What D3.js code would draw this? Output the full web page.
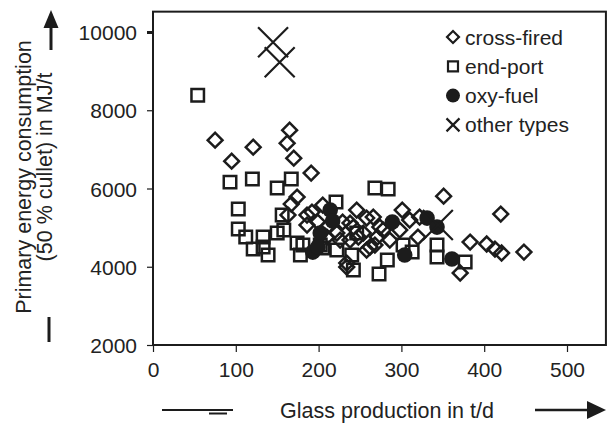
<!DOCTYPE html>
<html lang="en">
<head>
<meta charset="UTF-8">
<title>Primary energy consumption vs glass production</title>
<script src="https://d3js.org/d3.v7.min.js"></script>
<style>
    body { margin: 0; background: #fff; }
    svg { display: block; }
    text { font-family: "Liberation Sans", Arial, Helvetica, sans-serif; fill: #222; }
</style>
</head>
<body>
<svg id="vis" width="616" height="424"></svg>
<script>
    // values: [glass production t/d, energy MJ/t]
    const crossFired = [
        [75, 7236], [121, 7057], [165, 7491], [162, 7159], [95, 6699], [170, 6776],
        [191, 6393], [174, 5780], [167, 5601], [163, 5320], [186, 5320], [192, 5397],
        [205, 5576], [229, 5141], [210, 5014], [222, 4860], [238, 4682], [254, 4860],
        [246, 5448], [258, 5244], [266, 5270], [242, 5014], [262, 4503], [258, 4426],
        [234, 4094], [234, 3992], [301, 5448], [322, 5270], [351, 5805], [420, 5346],
        [383, 4631], [403, 4580], [413, 4452], [421, 4350], [448, 4375], [371, 3839],
        [278, 4937], [271, 4758], [310, 5193], [298, 4937], [268, 4554], [248, 4758],
        [320, 4758], [186, 5065], [199, 5141], [226, 4682], [210, 4758], [274, 5014],
        [286, 4682], [238, 5116]
    ];
    const endPort = [
        [54, 8386], [93, 6163], [120, 6240], [150, 6010], [167, 6240], [103, 5473],
        [103, 4963], [112, 4758], [121, 4452], [133, 4758], [150, 4860], [139, 4299],
        [133, 4503], [156, 5320], [174, 4605], [178, 4299], [221, 5652], [205, 4477],
        [222, 4426], [240, 4299], [242, 3915], [268, 6010], [284, 5984], [273, 3813],
        [283, 4171], [313, 4375], [343, 4554], [343, 4248], [377, 4120], [181, 4554],
        [158, 4937], [202, 4554], [302, 4554], [246, 4860]
    ];
    const oxyFuel = [
        [214, 5448], [217, 5167], [202, 4860], [193, 4375], [199, 4503],
        [289, 5141], [331, 5244], [343, 5014], [304, 4299], [361, 4197]
    ];
    const otherTypes = [
        [145, 9739], [153, 9228], [344, 5065]
    ];

    const legendLabels = ["cross-fired", "end-port", "oxy-fuel", "other types"];
    const xTicks = [0, 100, 200, 300, 400, 500];
    const yTicks = [2000, 4000, 6000, 8000, 10000];

    const ink = "#1c1c1c";
    const svg = d3.select("#vis");

    const x = d3.scaleLinear().domain([0, 500]).range([153, 567]);
    const y = d3.scaleLinear().domain([2000, 10000]).range([345, 32]);
    const xMax = 547, yMax = 10520;

    // frame
    svg.append("rect")
        .attr("x", x(0)).attr("y", y(yMax))
        .attr("width", x(xMax) - x(0)).attr("height", y(2000) - y(yMax))
        .attr("fill", "none").attr("stroke", ink).attr("stroke-width", 2);

    // axes
    const xAxis = svg.append("g")
        .attr("transform", `translate(0,${y(2000)})`)
        .call(d3.axisBottom(x).tickValues(xTicks).tickSize(7).tickPadding(10).tickFormat(d3.format("d")));
    const yAxis = svg.append("g")
        .attr("transform", `translate(${x(0)},0)`)
        .call(d3.axisLeft(y).tickValues(yTicks).tickSize(6).tickPadding(10).tickFormat(d3.format("d")));
    [xAxis, yAxis].forEach(a => {
        a.select(".domain").remove();
        a.selectAll("line").attr("stroke", ink).attr("stroke-width", 1.2);
        a.selectAll("text").attr("font-size", 21).attr("fill", "#222")
            .style("font-family", "'Liberation Sans', Arial, sans-serif");
    });
    yAxis.selectAll("text").attr("dy", "0.36em");
    xAxis.selectAll("text").attr("dy", "0.7em");
    // the 10000 tick is drawn heavier in the scan
    yAxis.selectAll(".tick").filter(d => d === 10000).select("line").attr("stroke-width", 3);

    // markers
    const sw = 2.5;
    const g = svg.append("g");
    const sq = d3.symbol().type(d3.symbolSquare).size(156);

    g.selectAll(".ep").data(endPort).join("path")
        .attr("class", "ep")
        .attr("d", sq)
        .attr("transform", d => `translate(${x(d[0])},${y(d[1])})`)
        .attr("fill", "none").attr("stroke", ink).attr("stroke-width", sw);

    g.selectAll(".cf").data(crossFired).join("path")
        .attr("class", "cf")
        .attr("d", sq.size(110))
        .attr("transform", d => `translate(${x(d[0])},${y(d[1])}) rotate(45)`)
        .attr("fill", "none").attr("stroke", ink).attr("stroke-width", sw);

    g.selectAll(".of").data(oxyFuel).join("circle")
        .attr("class", "of")
        .attr("cx", d => x(d[0])).attr("cy", d => y(d[1])).attr("r", 7.8)
        .attr("fill", ink);

    function cross(sel, h, w) {
        sel.append("path")
            .attr("d", `M${-h},${-h}L${h},${h}M${h},${-h}L${-h},${h}`)
            .attr("stroke", ink).attr("stroke-width", w).attr("fill", "none");
    }
    g.selectAll(".ot").data(otherTypes).join("g")
        .attr("class", "ot")
        .attr("transform", d => `translate(${x(d[0])},${y(d[1])})`)
        .call(cross, 15, 2.2);

    // legend
    const legend = svg.append("g").attr("transform", "translate(453,37)");
    const items = legend.selectAll("g").data(legendLabels).join("g")
        .attr("transform", (d, i) => `translate(0,${i * 29.3})`);
    items.append("text")
        .attr("x", 12).attr("y", 7.5)
        .attr("font-size", 21)
        .text(d => d);
    items.filter((d, i) => i === 0).append("path")
        .attr("d", d3.symbol().type(d3.symbolSquare).size(72))
        .attr("transform", "rotate(45)")
        .attr("fill", "none").attr("stroke", ink).attr("stroke-width", 2.2);
    items.filter((d, i) => i === 1).append("path")
        .attr("d", d3.symbol().type(d3.symbolSquare).size(100))
        .attr("fill", "none").attr("stroke", ink).attr("stroke-width", 2.2);
    items.filter((d, i) => i === 2).append("circle")
        .attr("r", 7).attr("fill", ink);
    items.filter((d, i) => i === 3).call(cross, 6.5, 2.2);

    // axis titles
    svg.append("text")
        .attr("transform", "translate(31,177) rotate(-90)")
        .attr("text-anchor", "middle").attr("font-size", 21.5)
        .text("Primary energy consumption");
    svg.append("text")
        .attr("transform", "translate(52,167) rotate(-90)")
        .attr("text-anchor", "middle").attr("font-size", 21.5)
        .text("(50 % cullet) in MJ/t");
    svg.append("text")
        .attr("x", 387).attr("y", 418)
        .attr("text-anchor", "middle").attr("font-size", 21.5)
        .text("Glass production in t/d");

    // direction arrows
    svg.append("line").attr("x1", 51).attr("x2", 51).attr("y1", 50).attr("y2", 26)
        .attr("stroke", ink).attr("stroke-width", 3);
    svg.append("path").attr("d", "M51,10L43.5,28L58.5,28Z").attr("fill", ink);
    svg.append("line").attr("x1", 49).attr("x2", 49).attr("y1", 317).attr("y2", 342)
        .attr("stroke", ink).attr("stroke-width", 3);

    svg.append("line").attr("x1", 162).attr("x2", 233).attr("y1", 410).attr("y2", 410)
        .attr("stroke", ink).attr("stroke-width", 2);
    svg.append("line").attr("x1", 209).attr("x2", 227).attr("y1", 413.5).attr("y2", 413.5)
        .attr("stroke", ink).attr("stroke-width", 2);
    svg.append("line").attr("x1", 535).attr("x2", 590).attr("y1", 410).attr("y2", 410)
        .attr("stroke", ink).attr("stroke-width", 2.5);
    svg.append("path").attr("d", "M606,410L587,401L587,419Z").attr("fill", ink);
</script>
</body>
</html>
